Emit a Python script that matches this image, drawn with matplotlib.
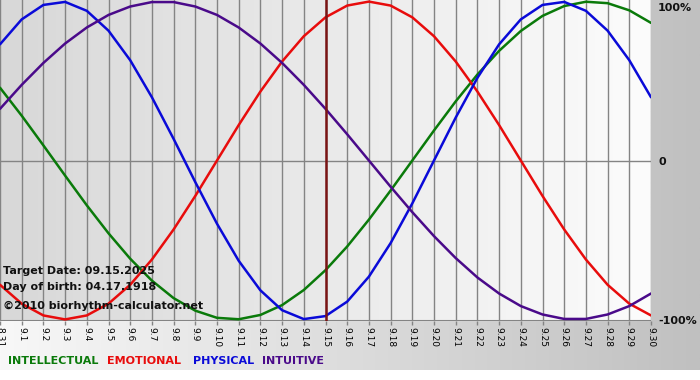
import matplotlib
matplotlib.use("Agg")
import matplotlib.pyplot as plt
import matplotlib.transforms as mtransforms
import numpy as np
from matplotlib.colors import LinearSegmentedColormap

# ---- data ----
days = list(range(31))
tick_labels = ["8.31"] + [f"9.{d}" for d in range(1, 31)]

intellectual = [0.458, 0.282, 0.095, -0.095, -0.282, -0.458, -0.618, -0.756, -0.866, -0.945,
                -0.990, -0.999, -0.972, -0.910, -0.815, -0.690, -0.541, -0.372, -0.189, 0.0,
                0.189, 0.372, 0.541, 0.690, 0.815, 0.910, 0.972, 0.999, 0.990, 0.945, 0.866]
emotional = [-0.782, -0.901, -0.975, -1.0, -0.975, -0.901, -0.782, -0.623, -0.434, -0.223,
             0.0, 0.223, 0.434, 0.623, 0.782, 0.901, 0.975, 1.0, 0.975, 0.901,
             0.782, 0.623, 0.434, 0.223, 0.0, -0.223, -0.434, -0.623, -0.782, -0.901, -0.975]
physical = [0.731, 0.888, 0.979, 0.998, 0.942, 0.817, 0.631, 0.398, 0.136, -0.136,
            -0.398, -0.631, -0.817, -0.942, -0.998, -0.979, -0.888, -0.731, -0.520, -0.270,
            0.0, 0.270, 0.520, 0.731, 0.888, 0.979, 0.998, 0.942, 0.817, 0.631, 0.398]
intuitive = [0.325, 0.476, 0.614, 0.736, 0.837, 0.916, 0.969, 0.997, 0.997, 0.969,
             0.916, 0.837, 0.736, 0.614, 0.476, 0.325, 0.165, 0.0, -0.165, -0.325,
             -0.476, -0.614, -0.736, -0.837, -0.916, -0.969, -0.997, -0.997, -0.969, -0.916, -0.837]

target_day = 15
series_names = ["INTELLECTUAL", "EMOTIONAL", "PHYSICAL", "INTUITIVE"]
colors = ["#0a7a0a", "#e80c0c", "#0a0ad8", "#4a0a8a"]
info_lines = ["Target Date: 09.15.2025", "Day of birth: 04.17.1918", "\u00a92010 biorhythm-calculator.net"]
right_values = [1, 0, -1]
right_texts = ["100%", "0", "-100%"]

plt.rcParams['font.family'] = ['DejaVu Sans']

W, H = 700, 380
fig = plt.figure(figsize=(W / 100, H / 100), dpi=100)
fig.patch.set_facecolor("white")

# background gradient for whole image (upper 370 px)
bg = fig.add_axes([0, 10 / H, 1, 1 - 10 / H], zorder=-10)
grad = np.linspace(0, 1, 256).reshape(1, -1)
cm_bg = LinearSegmentedColormap.from_list("bg", ["#f8f8f8", "#c0c0c0"])
bg.imshow(grad, aspect="auto", cmap=cm_bg, extent=[0, 1, 0, 1])
bg.set_axis_off()

# main axes
L, R, T, B = 0, 651, 0, 321
ax = fig.add_axes([L / W, 1 - B / H, (R - L) / W, (B - T) / H])
cm_pl = LinearSegmentedColormap.from_list("pl", ["#d8d8d8", "#fcfcfc"])
ax.imshow(grad, aspect="auto", cmap=cm_pl, extent=[0, 30, -1.01, 1.01], zorder=0)

ax.set_xlim(0, 30)
ax.set_ylim(-1.01, 1.01)
for d in days:
    ax.axvline(d, color="#848484", lw=1.0, zorder=1)
ax.axhline(0, color="#848484", lw=1.0, zorder=1)
ax.axhline(-1.01, color="#848484", lw=1.5, zorder=1)

for vals, c in zip([intellectual, emotional, physical, intuitive], colors):
    ax.plot(days, vals, color=c, lw=1.8, zorder=3, solid_joinstyle="round",
            solid_capstyle="round")

ax.axvline(target_day, color="#7a1414", lw=1.8, zorder=4)

for s in ax.spines.values():
    s.set_visible(False)
ax.set_yticks([])
ax.set_xticks(days)
ax.set_xticklabels(tick_labels, rotation=270, fontsize=6.5)
ax.tick_params(axis="x", length=3, width=1, color="#848484", pad=1.5)

offsets_pt = [-4.5, -1.2, -0.8]
for v, lab, dy in zip(right_values, right_texts, offsets_pt):
    tr = mtransforms.offset_copy(ax.get_yaxis_transform(), fig=fig, x=0, y=dy, units="points")
    ax.text(1.0108, v, lab, transform=tr, ha="left", va="center",
            fontsize=8, fontweight="bold", color="#111111", clip_on=False)

for txt, yc in zip(info_lines, [271, 287, 306]):
    fig.text(3 / W, 1 - yc / H, txt, ha="left", va="center", fontsize=8,
             fontweight="bold", color="#111111", zorder=5)

xpos = [8, 107, 193, 262]
for name, c, x in zip(series_names, colors, xpos):
    fig.text(x / W, 1 - 361 / H, name, ha="left", va="center", fontsize=8,
             fontweight="bold", color=c)

fig.savefig("out.png", dpi=100)
